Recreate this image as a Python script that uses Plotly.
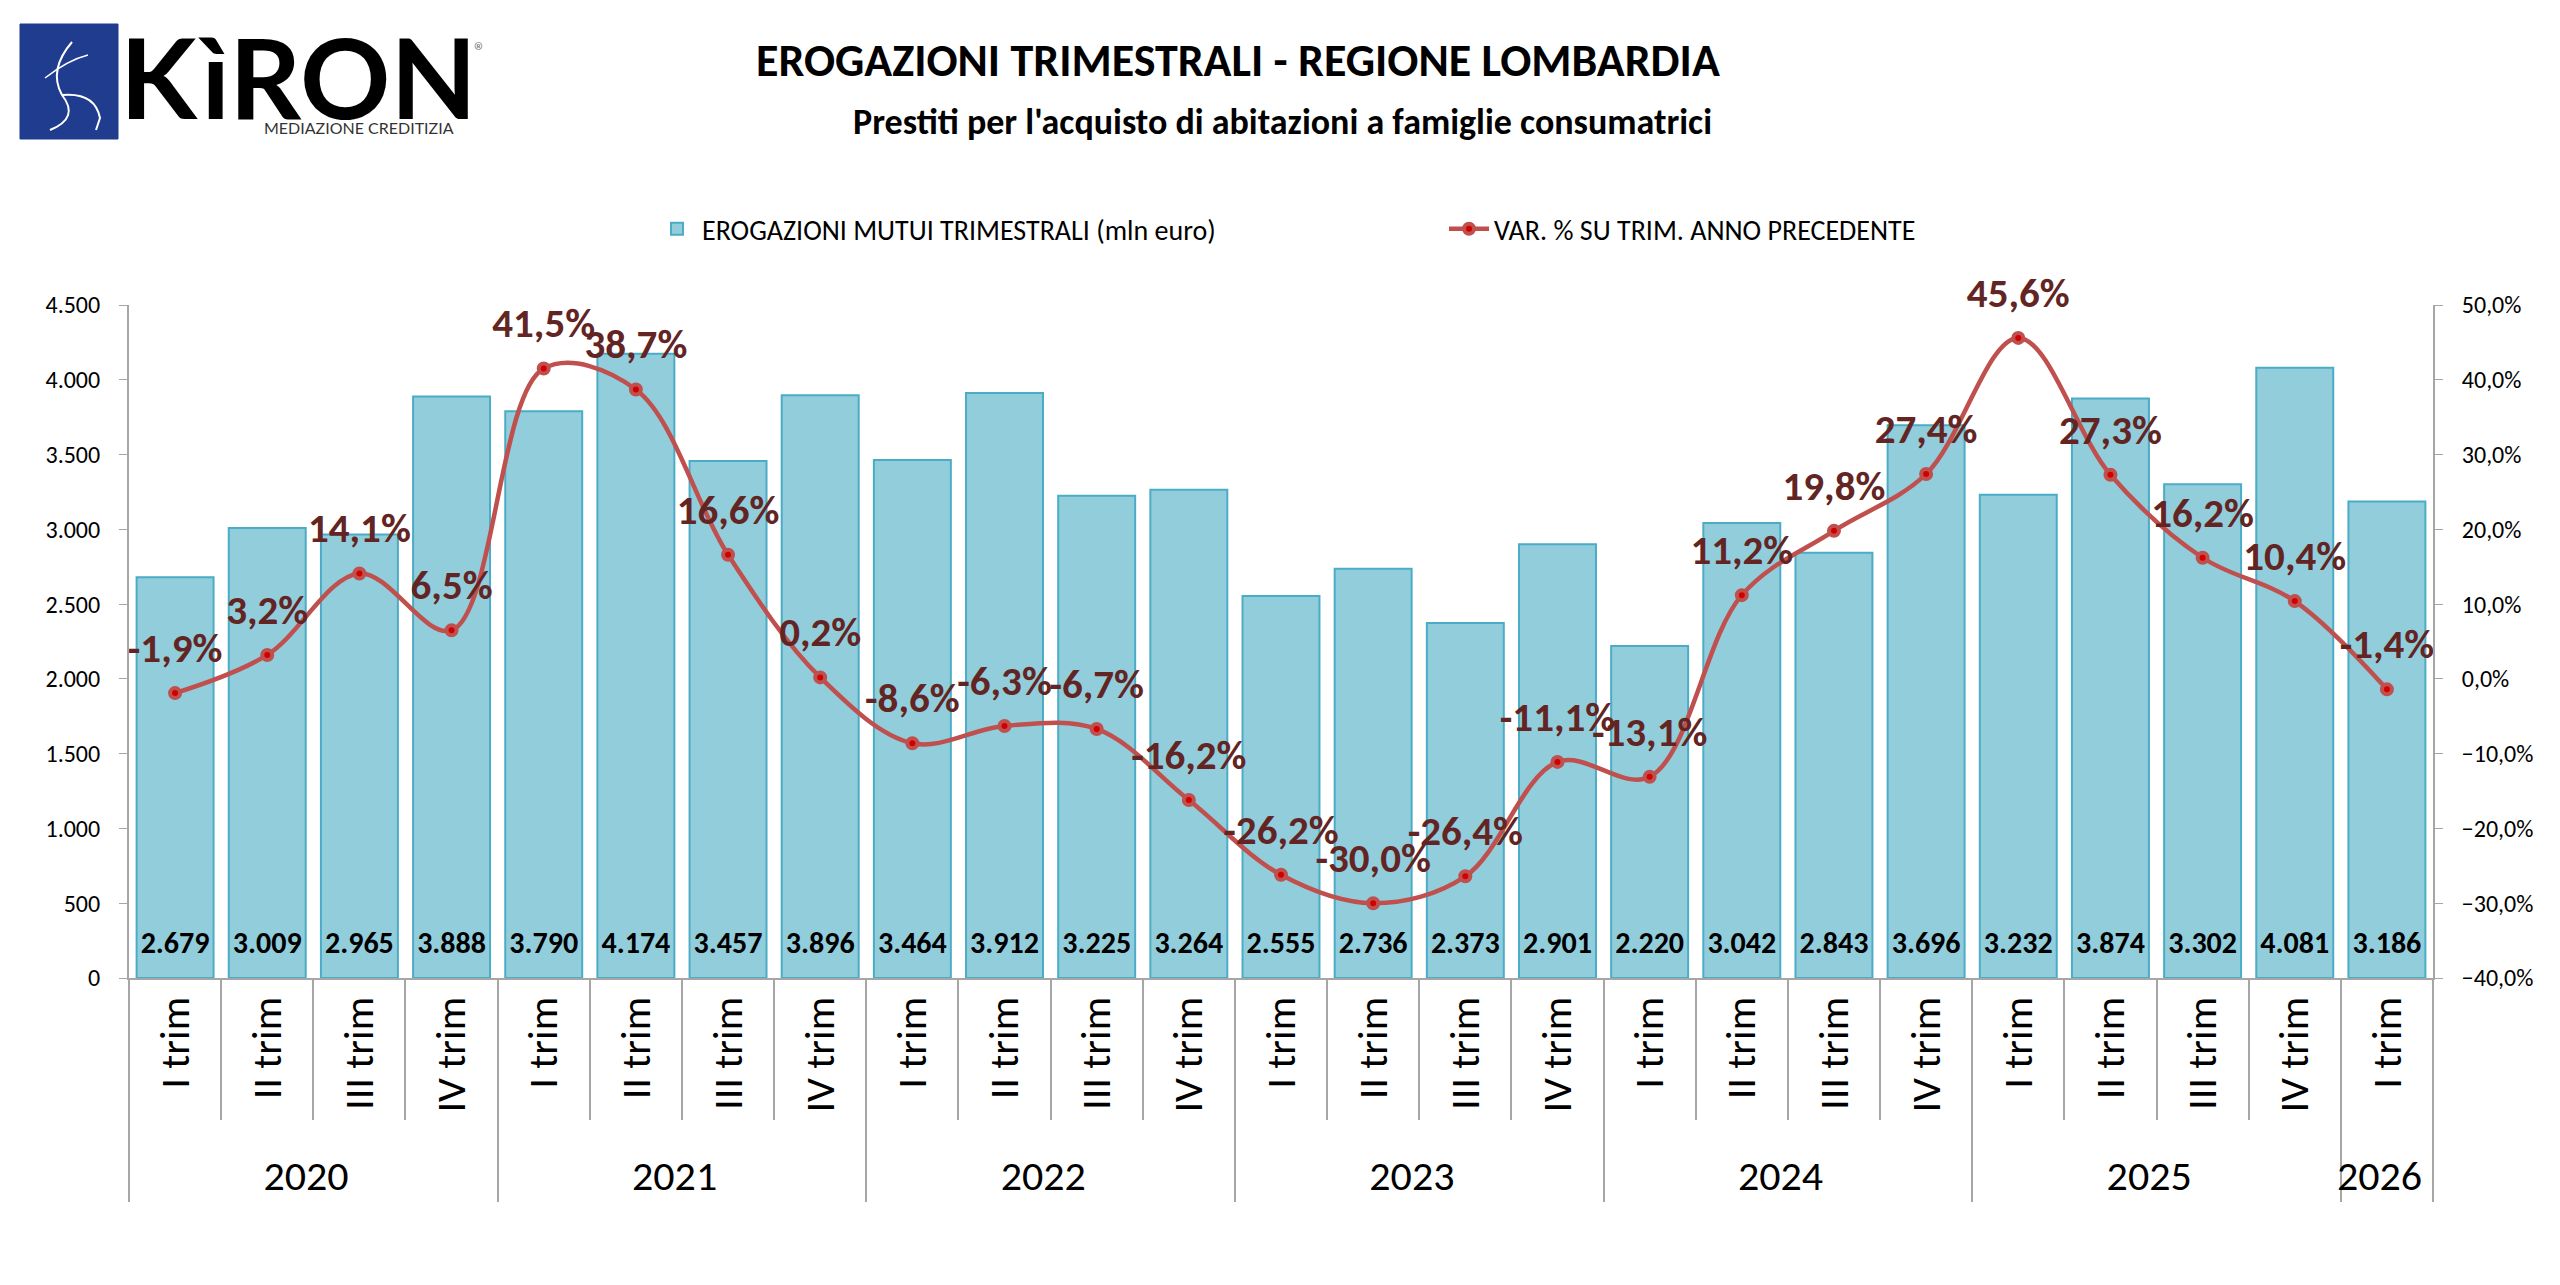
import plotly.graph_objects as go

# dati: erogazioni trimestrali mutui, regione Lombardia
years = ["2020"] * 4 + ["2021"] * 4 + ["2022"] * 4 + ["2023"] * 4 + ["2024"] * 4 + ["2025"] * 4 + ["2026"]
quarters = ["I trim", "II trim", "III trim", "IV trim"] * 6 + ["I trim"]
erogazioni = [2679, 3009, 2965, 3888, 3790, 4174, 3457, 3896, 3464, 3912, 3225, 3264,
              2555, 2736, 2373, 2901, 2220, 3042, 2843, 3696, 3232, 3874, 3302, 4081, 3186]
var_pct = [-1.9, 3.2, 14.1, 6.5, 41.5, 38.7, 16.6, 0.2, -8.6, -6.3, -6.7, -16.2,
           -26.2, -30.0, -26.4, -11.1, -13.1, 11.2, 19.8, 27.4, 45.6, 27.3, 16.2, 10.4, -1.4]

FONT = "Carlito, Lato, sans-serif"
GRAY = "#A6A6A6"

# la pagina html ha un margine di 8px: le posizioni sotto sono quelle dello screenshot
OFF = 8
W_PX, H_PX = 2560, 1285
L, R, T, B = 129 - OFF, 2560 - (2433 - OFF), 305 - OFF, 1285 - (978 - OFF)
PW, PH = W_PX - L - R, H_PX - T - B


def px(x):
    return (x - OFF - L) / PW


def py(y):
    return 1 - (y - OFF - T) / PH


x_cat = [years, quarters]
n = len(erogazioni)

fig = go.Figure()

fig.add_trace(go.Bar(
    x=x_cat,
    y=erogazioni,
    name="EROGAZIONI MUTUI TRIMESTRALI (mln euro)",
    marker=dict(color="#92CDDC", line=dict(color="#4BACC6", width=2)),
))

# valori delle barre, alla base
fig.add_trace(go.Scatter(
    x=x_cat,
    y=[0] * n,
    customdata=erogazioni,
    mode="markers+text",
    marker=dict(size=26, opacity=0),
    texttemplate="<b>%{customdata:,.0f}</b>",
    textposition="top center",
    textfont=dict(size=30, color="black", family=FONT),
    showlegend=False,
    hoverinfo="skip",
    cliponaxis=False,
))

fig.add_trace(go.Scatter(
    x=x_cat,
    y=var_pct,
    yaxis="y2",
    name="VAR. % SU TRIM. ANNO PRECEDENTE",
    mode="lines+markers",
    line=dict(color="#C0504D", width=4.5, shape="spline", smoothing=1),
    marker=dict(size=10, color="#D00000", line=dict(color="#C0504D", width=4)),
))

# etichette percentuali sopra i punti
fig.add_trace(go.Scatter(
    x=x_cat,
    y=var_pct,
    yaxis="y2",
    mode="markers+text",
    marker=dict(size=32, opacity=0),
    texttemplate="<b>%{y:.1f}%</b>",
    textposition="top center",
    textfont=dict(size=41, color="#632523", family=FONT),
    showlegend=False,
    hoverinfo="skip",
    cliponaxis=False,
))

annotations = [
    dict(text="<b>EROGAZIONI TRIMESTRALI - REGIONE LOMBARDIA</b>", x=px(1238), y=py(60),
         font=dict(size=46, color="black", family=FONT)),
    dict(text="<b>Prestiti per l'acquisto di abitazioni a famiglie consumatrici</b>", x=px(1282), y=py(122),
         font=dict(size=36, color="black", family=FONT)),
    # logo
    dict(text="<b>KìRON</b>", x=px(118), y=py(76), xanchor="left",
         font=dict(size=112, color="black", family="Lato")),
    dict(text="MEDIAZIONE CREDITIZIA", x=px(262), y=py(127), xanchor="left",
         font=dict(size=16, color="#333333", family="Liberation Sans Narrow, Lato")),
    dict(text="®", x=px(480), y=py(50), xanchor="center",
         font=dict(size=24, color="#777777", family=FONT)),
]
for a in annotations:
    a.update(xref="paper", yref="paper", showarrow=False)
    a.setdefault("xanchor", "center")
    a.setdefault("yanchor", "middle")

shapes = [
    dict(type="rect", x0=px(20), x1=px(118), y0=py(24), y1=py(139),
         fillcolor="#1F3C8E", line=dict(color="#1F3C8E", width=1)),
    dict(type="path",
         path="M {0} {1} Q {2} {3} {4} {5} Q {6} {7} {8} {9}".format(
             px(72), py(42), px(48), py(70), px(62), py(95), px(80), py(118), px(50), py(130)),
         line=dict(color="white", width=2)),
    dict(type="path",
         path="M {0} {1} Q {2} {3} {4} {5} L {6} {7}".format(
             px(62), py(95), px(95), py(92), px(100), py(118), px(96), py(130)),
         line=dict(color="white", width=2)),
    dict(type="path",
         path="M {0} {1} Q {2} {3} {4} {5}".format(
             px(45), py(78), px(68), py(60), px(88), py(55)),
         line=dict(color="white", width=1.5)),
]
for s in shapes:
    s.update(xref="paper", yref="paper")

fig.update_layout(
    width=W_PX,
    height=H_PX,
    margin=dict(l=L, r=R, t=T, b=B),
    paper_bgcolor="white",
    plot_bgcolor="white",
    separators=",.",
    font=dict(family=FONT, color="black"),
    bargap=0.165,
    annotations=annotations,
    shapes=shapes,
    legend=dict(
        orientation="h",
        x=px(652), xanchor="left",
        y=py(229), yanchor="middle",
        font=dict(size=28, family=FONT),
        entrywidth=737,
        itemwidth=40,
        traceorder="normal",
    ),
    xaxis=dict(
        type="multicategory",
        range=[-0.5, n - 0.5],
        showline=True, linecolor=GRAY, linewidth=2,
        ticks="outside", tickson="boundaries", ticklen=140, tickcolor=GRAY, tickwidth=2,
        tickangle=-90,
        tickfont=dict(size=42, family=FONT),
        dividercolor=GRAY, dividerwidth=2,
        showgrid=False,
    ),
    yaxis=dict(
        range=[0, 4500], dtick=500, tickformat=",.0f",
        showgrid=False, zeroline=False,
        showline=True, linecolor=GRAY, linewidth=2,
        ticks="outside", ticklen=8, tickcolor=GRAY,
        ticklabelstandoff=14,
        tickfont=dict(size=24, family=FONT),
    ),
    yaxis2=dict(
        overlaying="y", side="right",
        range=[-40, 50], dtick=10, tickformat=".1f", ticksuffix="%",
        showgrid=False, zeroline=False,
        showline=True, linecolor=GRAY, linewidth=2,
        ticks="outside", ticklen=8, tickcolor=GRAY,
        ticklabelstandoff=14,
        tickfont=dict(size=24, family=FONT),
    ),
)

fig.write_html("out.html")
